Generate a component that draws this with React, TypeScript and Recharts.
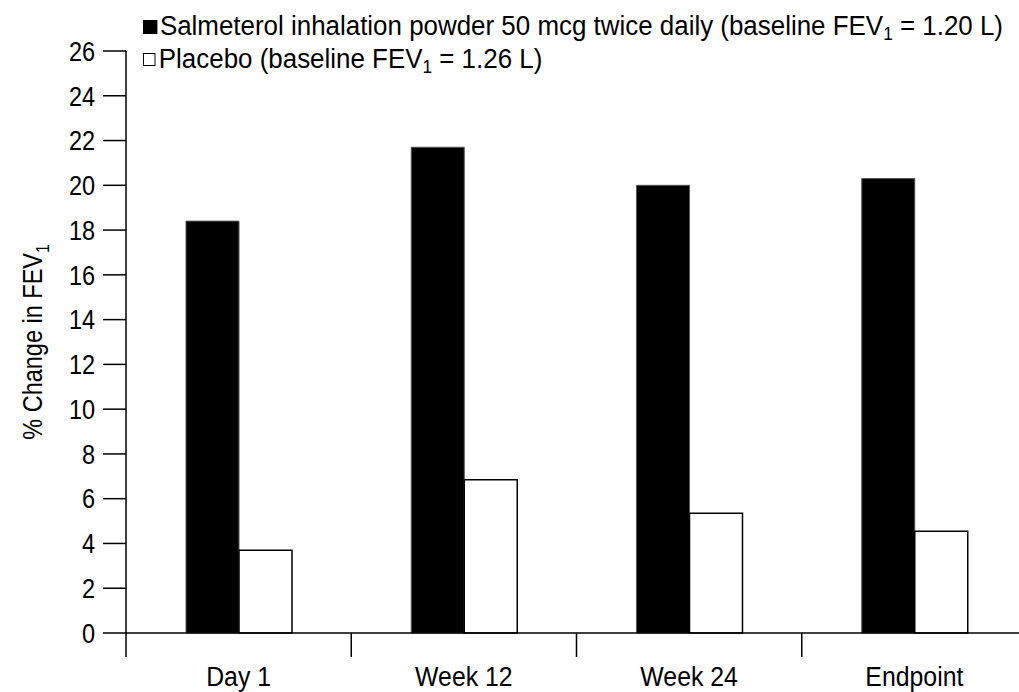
import { Bar, BarChart, Legend, XAxis, YAxis } from 'recharts'

const categories = ['Day 1', 'Week 12', 'Week 24', 'Endpoint']
const salmeterolValues = [18.4, 21.7, 20.0, 20.3]
const placeboValues = [3.7, 6.85, 5.35, 4.55]
const yTicks = [0, 2, 4, 6, 8, 10, 12, 14, 16, 18, 20, 22, 24, 26]

const data = categories.map((name, i) => ({
  name,
  salmeterol: salmeterolValues[i],
  placebo: placeboValues[i],
}))

// the original uses a condensed grotesque; squeeze Liberation Sans to match
const font = "'Liberation Sans', Arial, sans-serif"
const squeeze = 0.87
const catSqueeze = 0.92
const legendSqueeze = 0.96

function CategoryTick(props: any) {
  const { x, y, payload, width } = props
  const band = width / categories.length
  return (
    <g>
      <line x1={x - band / 2} x2={x - band / 2} y1={y} y2={y + 24} stroke="#000" strokeWidth={1.5} />
      <text
        transform={`translate(${x}, ${y + 53}) scale(${catSqueeze}, 1)`}
        textAnchor="middle"
        fontFamily={font}
        fontSize={27}
        fill="#000"
      >
        {payload.value}
      </text>
    </g>
  )
}

function ValueTick(props: any) {
  const { x, y, payload } = props
  return (
    <text
      transform={`translate(${x}, ${y}) scale(${squeeze}, 1)`}
      textAnchor="end"
      dy="0.36em"
      fontFamily={font}
      fontSize={27}
      fill="#000"
    >
      {payload.value}
    </text>
  )
}

function YLabel(props: any) {
  const { viewBox } = props
  const cy = viewBox.y + viewBox.height / 2
  return (
    <text
      transform={`translate(32, ${cy}) rotate(-90) scale(${squeeze}, 1)`}
      textAnchor="middle"
      dy="0.36em"
      fontFamily={font}
      fontSize={27}
      fill="#000"
    >
      % Change in FEV<tspan fontSize={18} dy={7}>1</tspan>
    </text>
  )
}

function LegendContent() {
  const row = { display: 'flex', alignItems: 'center', height: 33, whiteSpace: 'nowrap' as const }
  const sub = { fontSize: 18, position: 'relative' as const, top: 7 }
  return (
    <div
      style={{
        fontFamily: font,
        fontSize: 27,
        color: '#000',
        lineHeight: 1,
        transform: `scaleX(${legendSqueeze})`,
        transformOrigin: 'left top',
      }}
    >
      <div style={row}>
        <span style={{ width: 14 / legendSqueeze, height: 14, background: '#000', marginRight: 3, display: 'inline-block' }} />
        Salmeterol inhalation powder 50 mcg twice daily (baseline FEV<span style={sub}>1</span>&nbsp;= 1.20 L)
      </div>
      <div style={row}>
        <span
          style={{
            width: 11 / legendSqueeze,
            height: 11,
            border: '1px solid #000',
            marginRight: 3,
            display: 'inline-block',
            boxSizing: 'content-box',
          }}
        />
        Placebo (baseline FEV<span style={sub}>1</span>&nbsp;= 1.26 L)
      </div>
    </div>
  )
}

export default function App() {
  return (
    <div style={{ position: 'absolute', top: 0, left: 0, width: 1019, height: 692, overflow: 'hidden', background: '#fff' }}>
      <BarChart
        width={1030}
        height={692}
        data={data}
        margin={{ top: 51, right: 3, left: 0, bottom: 0 }}
        barCategoryGap={60}
        barGap={0}
      >
        <XAxis
          dataKey="name"
          height={59}
          axisLine={{ stroke: '#000', strokeWidth: 1.5 }}
          tickLine={false}
          tickSize={0}
          tickMargin={0}
          tick={<CategoryTick />}
          interval={0}
        />
        <YAxis
          width={126}
          domain={[0, 26]}
          ticks={yTicks}
          interval={0}
          axisLine={{ stroke: '#000', strokeWidth: 1.5 }}
          tickLine={{ stroke: '#000', strokeWidth: 1.5 }}
          tickSize={23}
          tickMargin={8}
          tick={<ValueTick />}
          label={{ content: <YLabel /> }}
        />
        <Legend
          layout="vertical"
          align="center"
          verticalAlign="middle"
          content={<LegendContent />}
          wrapperStyle={{ top: 10, left: 143, width: 'auto' }}
        />
        <Bar dataKey="salmeterol" fill="#000" stroke="#555" strokeWidth={1} isAnimationActive={false} />
        <Bar dataKey="placebo" fill="#fff" stroke="#000" strokeWidth={1.5} isAnimationActive={false} />
      </BarChart>
    </div>
  )
}
